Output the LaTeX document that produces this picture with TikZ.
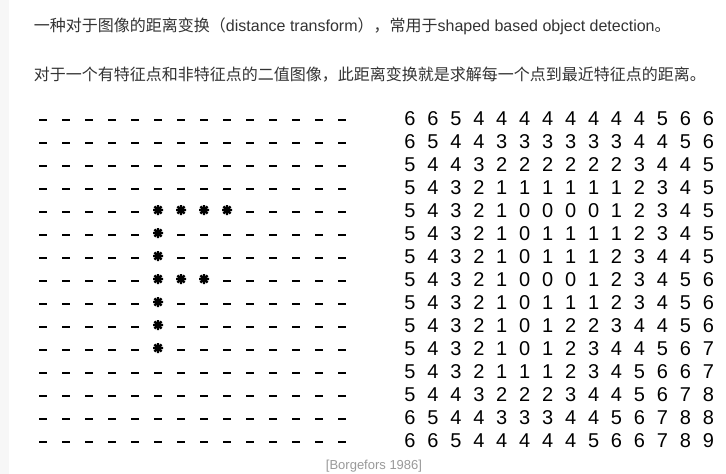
\documentclass[tikz,border=0pt]{standalone}
\usepackage{fontspec}
\setmainfont{Liberation Sans}
\newfontfamily\zhfont{Noto Sans CJK SC}
\usetikzlibrary{positioning}
\definecolor{body}{HTML}{333333}
\definecolor{cite}{HTML}{999999}
\definecolor{strip}{HTML}{F7F7F7}
\newcommand{\zh}[1]{{\zhfont #1}}

\begin{document}
\begin{tikzpicture}[x=1pt, y=-1pt,
  every node/.style={inner sep=0pt, outer sep=0pt},
  para/.style={anchor=west, text=body, font=\fontsize{16}{19}\selectfont},
  digit/.style={font=\fontsize{20}{20}\selectfont},
  dashmark/.style={fill=black, minimum width=8pt, minimum height=2.8pt},
  starmark/.style={circle, minimum size=10pt},
  starstroke/.style={line width=2.4pt}]
\useasboundingbox (0,0) rectangle (726,474);
\fill[white] (0,0) rectangle (726,474);
\fill[strip] (0,0) rectangle (9,474);

% text above the grids
\node[para] (line1) at (34,26)
  {\zh{一种对于图像的距离变换（}distance transform\zh{），常用于}shaped based object detection\zh{。}};
\node[para] (line2) at (34,75)
  {\zh{对于一个有特征点和非特征点的二值图像，此距离变换就是求解每一个点到最近特征点的距离。}};

% binary image (left) and its distance map (right)
\foreach \vals [count=\r from 0] in {
  {6,6,5,4,4,4,4,4,4,4,4,5,6,6},
  {6,5,4,4,3,3,3,3,3,3,4,4,5,6},
  {5,4,4,3,2,2,2,2,2,2,3,4,4,5},
  {5,4,3,2,1,1,1,1,1,1,2,3,4,5},
  {5,4,3,2,1,0,0,0,0,1,2,3,4,5},
  {5,4,3,2,1,0,1,1,1,1,2,3,4,5},
  {5,4,3,2,1,0,1,1,1,2,3,4,4,5},
  {5,4,3,2,1,0,0,0,1,2,3,4,5,6},
  {5,4,3,2,1,0,1,1,1,2,3,4,5,6},
  {5,4,3,2,1,0,1,2,2,3,4,4,5,6},
  {5,4,3,2,1,0,1,2,3,4,4,5,6,7},
  {5,4,3,2,1,1,1,2,3,4,5,6,6,7},
  {5,4,4,3,2,2,2,3,4,4,5,6,7,8},
  {6,5,4,4,3,3,3,4,4,5,6,7,8,8},
  {6,6,5,4,4,4,4,4,5,6,6,7,8,9}} {
  \foreach \v [count=\c from 0] in \vals {
    \node[digit] (d-\r-\c) at ({410+22.95*\c},{119+23*\r}) {\v};
    \ifnum\v=0
      \node[starmark] (p-\r-\c) at ({43+23*\c},{118+23*\r}) {};
      \draw[starstroke] (p-\r-\c.90) -- (p-\r-\c.270)
                        (p-\r-\c.0) -- (p-\r-\c.180)
                        (p-\r-\c.45) -- (p-\r-\c.225)
                        (p-\r-\c.135) -- (p-\r-\c.315);
    \else
      \node[dashmark] (p-\r-\c) at ({43+23*\c},{120+23*\r}) {};
    \fi
  }
}

\node[text=cite, font=\fontsize{13}{13}\selectfont] (cite) at (374,466.5) {[Borgefors 1986]};
\end{tikzpicture}
\end{document}
